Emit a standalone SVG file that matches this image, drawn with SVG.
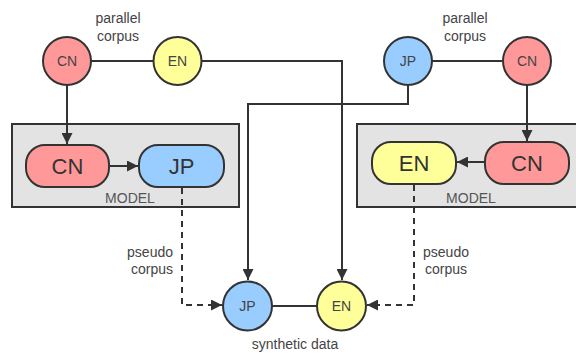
<svg xmlns="http://www.w3.org/2000/svg" width="576" height="354" viewBox="0 0 576 354">
<defs>
<style>
.c{stroke:#333;stroke-width:2}
.red{fill:#ff9999}.yel{fill:#ffff99}.blu{fill:#99ccff}
.box{fill:#e3e3e3;stroke:#333;stroke-width:2}
.ln{fill:none;stroke:#333;stroke-width:2}
.ds{fill:none;stroke:#333;stroke-width:2;stroke-dasharray:6 5}
text{font-family:"Liberation Sans",Arial,sans-serif;fill:#444;text-anchor:middle}
.sm{font-size:14px}
.lg{font-size:22px;fill:#333}
.lb{font-size:14px;fill:#555}
</style>
<marker id="ah" viewBox="0 0 10 10" refX="10" refY="5" markerWidth="5.5" markerHeight="5.5" orient="auto" markerUnits="strokeWidth"><path d="M0,0 L10,5 L0,10 z" fill="#333"/></marker>
</defs>
<g id="model-left"><rect class="box" x="12" y="124" width="227" height="83"/><text class="lb" x="130" y="203">MODEL</text></g>
<g id="model-right"><rect class="box" x="357" y="124" width="221" height="83"/><text class="lb" x="471" y="203">MODEL</text></g>
<g id="connectors">
<path class="ln" d="M91,61 H153"/>
<path class="ln" d="M202,61 H342 V280" marker-end="url(#ah)"/>
<path class="ln" d="M432,61 H502"/>
<path class="ln" d="M408,85 V104 H248 V280" marker-end="url(#ah)"/>
<path class="ln" d="M67,85 V144" marker-end="url(#ah)"/>
<path class="ln" d="M527,85 V141" marker-end="url(#ah)"/>
<path class="ln" d="M109,166 H138" marker-end="url(#ah)"/>
<path class="ln" d="M485,162 H457" marker-end="url(#ah)"/>
<path class="ln" d="M272,306 H317"/>
<path class="ds" d="M182,188 V305 H222" marker-end="url(#ah)"/>
<path class="ds" d="M414,185 V305 H367" marker-end="url(#ah)"/>
</g>
<g id="cn-top-left"><circle class="c red" cx="67" cy="61" r="24"/><text class="sm" x="67" y="66">CN</text></g>
<g id="en-top-left"><circle class="c yel" cx="177.5" cy="61" r="24"/><text class="sm" x="177.5" y="66">EN</text></g>
<g id="jp-top-right"><circle class="c blu" cx="408" cy="61" r="24"/><text class="sm" x="408" y="66">JP</text></g>
<g id="cn-top-right"><circle class="c red" cx="527" cy="61" r="24"/><text class="sm" x="527" y="66">CN</text></g>
<g id="cn-model-left"><rect class="c red" x="26" y="145" width="83" height="42" rx="19"/><text class="lg" x="67.5" y="174">CN</text></g>
<g id="jp-model-left"><rect class="c blu" x="139" y="145" width="85" height="42" rx="19"/><text class="lg" x="181.5" y="174">JP</text></g>
<g id="en-model-right"><rect class="c yel" x="372" y="142" width="84" height="42" rx="19"/><text class="lg" x="414" y="171">EN</text></g>
<g id="cn-model-right"><rect class="c red" x="485" y="142" width="84" height="42" rx="19"/><text class="lg" x="527" y="171">CN</text></g>
<g id="jp-bottom"><circle class="c blu" cx="247.5" cy="306" r="24.5"/><text class="sm" x="247.5" y="311">JP</text></g>
<g id="en-bottom"><circle class="c yel" cx="341.5" cy="306" r="24.5"/><text class="sm" x="341.5" y="311">EN</text></g>
<g id="labels">
<text class="sm" x="118" y="23">parallel</text><text class="sm" x="118" y="41">corpus</text>
<text class="sm" x="465" y="23">parallel</text><text class="sm" x="465" y="41">corpus</text>
<text class="sm" x="173" y="257" style="text-anchor:end">pseudo</text><text class="sm" x="173" y="274" style="text-anchor:end">corpus</text>
<text class="sm" x="446" y="257">pseudo</text><text class="sm" x="446" y="274">corpus</text>
<text class="sm" x="295" y="349">synthetic data</text>
</g>
</svg>
